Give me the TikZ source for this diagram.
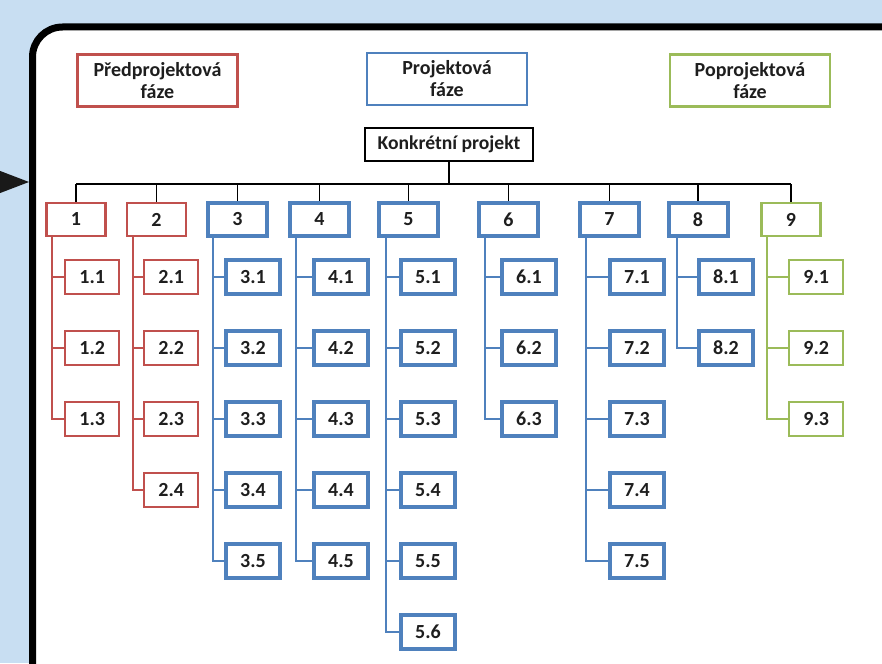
\documentclass[tikz,border=0pt]{standalone}
\usepackage{fontspec}
\setmainfont{Carlito}
\usetikzlibrary{positioning, shadows}
\definecolor{predred}{RGB}{192,80,77}
\definecolor{projblue}{RGB}{79,129,189}
\definecolor{postgreen}{RGB}{155,187,89}
\definecolor{skyback}{RGB}{200,222,242}
\definecolor{inktext}{RGB}{30,30,30}

\tikzset{
  phasebox/.style={draw, line width=1.4pt, fill=white, minimum width=80pt, minimum height=26pt,
    inner sep=0pt, align=center, font=\fontsize{10}{11}\selectfont\bfseries, text=inktext},
  wbsbox/.style={draw, line width=1.2pt, fill=white, minimum width=29.5pt, minimum height=16.5pt,
    inner sep=0pt, font=\fontsize{10}{10}\selectfont\bfseries, text=inktext},
  taskbox/.style={wbsbox, minimum width=27pt, minimum height=17pt},
  predstyle/.style={draw=predred},
  projstyle/.style={draw=projblue, line width=2pt,
    drop shadow={shadow xshift=0.8pt, shadow yshift=-0.8pt, fill=black!25}},
  poststyle/.style={draw=postgreen},
  busline/.style={line width=0.8pt, black},
}

\begin{document}
\begin{tikzpicture}[x=0.5pt, y=-0.5pt]
  % background and frame
  \fill[skyback] (0,0) rectangle (882,663);
  \useasboundingbox (0,0) rectangle (882,663);
  \begin{scope}
    \clip (0,0) rectangle (882,663);
    \draw[line width=3.5pt, fill=white, rounded corners=15pt] (32.5,27) rectangle (930,720);
    \fill[black!90] (-5,169) -- (29,182) -- (-5,195) -- cycle;
  \end{scope}

  % phases
  \node[phasebox, predstyle] (pred) at (157.5,80.5) {Předprojektová\\fáze};
  \node[phasebox, draw=projblue] (proj) at (447,79) {Projektová\\fáze};
  \node[phasebox, poststyle] (post) at (750,80.5) {Poprojektová\\fáze};

  % root
  \node[draw, line width=1pt, fill=white, minimum width=84pt, minimum height=16.5pt, inner sep=0pt,
    font=\fontsize{9.8}{10}\selectfont\bfseries, text=inktext] (kp) at (449,144.5) {Konkrétní projekt};
  \coordinate (bus) at (0,184);

  % first level
  \foreach \i/\xc/\sty in {1/76/predstyle, 2/156.5/predstyle, 3/237.5/projstyle, 4/319.5/projstyle,
      5/408.5/projstyle, 6/508.5/projstyle, 7/609.5/projstyle, 8/698/projstyle, 9/791/poststyle} {
    \node[wbsbox, \sty] (p\i) at (\xc,219.5) {\i};
    \draw[busline] (p\i.north) -- (p\i.north |- bus);
  }
  \draw[busline] (p1.north |- bus) -- (p9.north |- bus);
  \draw[line width=1.3pt] (kp.south) -- (kp.south |- bus);

  % work packages
  \foreach \i/\sty/\col/\lw/\xt/\xk/\n in {1/predstyle/predred/1pt/52/64/3, 2/predstyle/predred/1pt/133/143/4,
      3/projstyle/projblue/1.4pt/213/224/5, 4/projstyle/projblue/1.4pt/296/312/5,
      5/projstyle/projblue/1.4pt/386/399/6, 6/projstyle/projblue/1.4pt/485/500/3,
      7/projstyle/projblue/1.4pt/586/608/5, 8/projstyle/projblue/1.4pt/677/697/2,
      9/poststyle/postgreen/1pt/767/788/3} {
    \coordinate (t\i) at (\xt,0);
    \foreach \k in {1,...,\n} {
      \node[taskbox, \sty, anchor=west] (c\i-\k) at (\xk,{277+71*(\k-1)}) {\i.\k};
      \draw[\col, line width=\lw] (t\i |- p\i.south) |- (c\i-\k.west);
    }
  }
\end{tikzpicture}
\end{document}
